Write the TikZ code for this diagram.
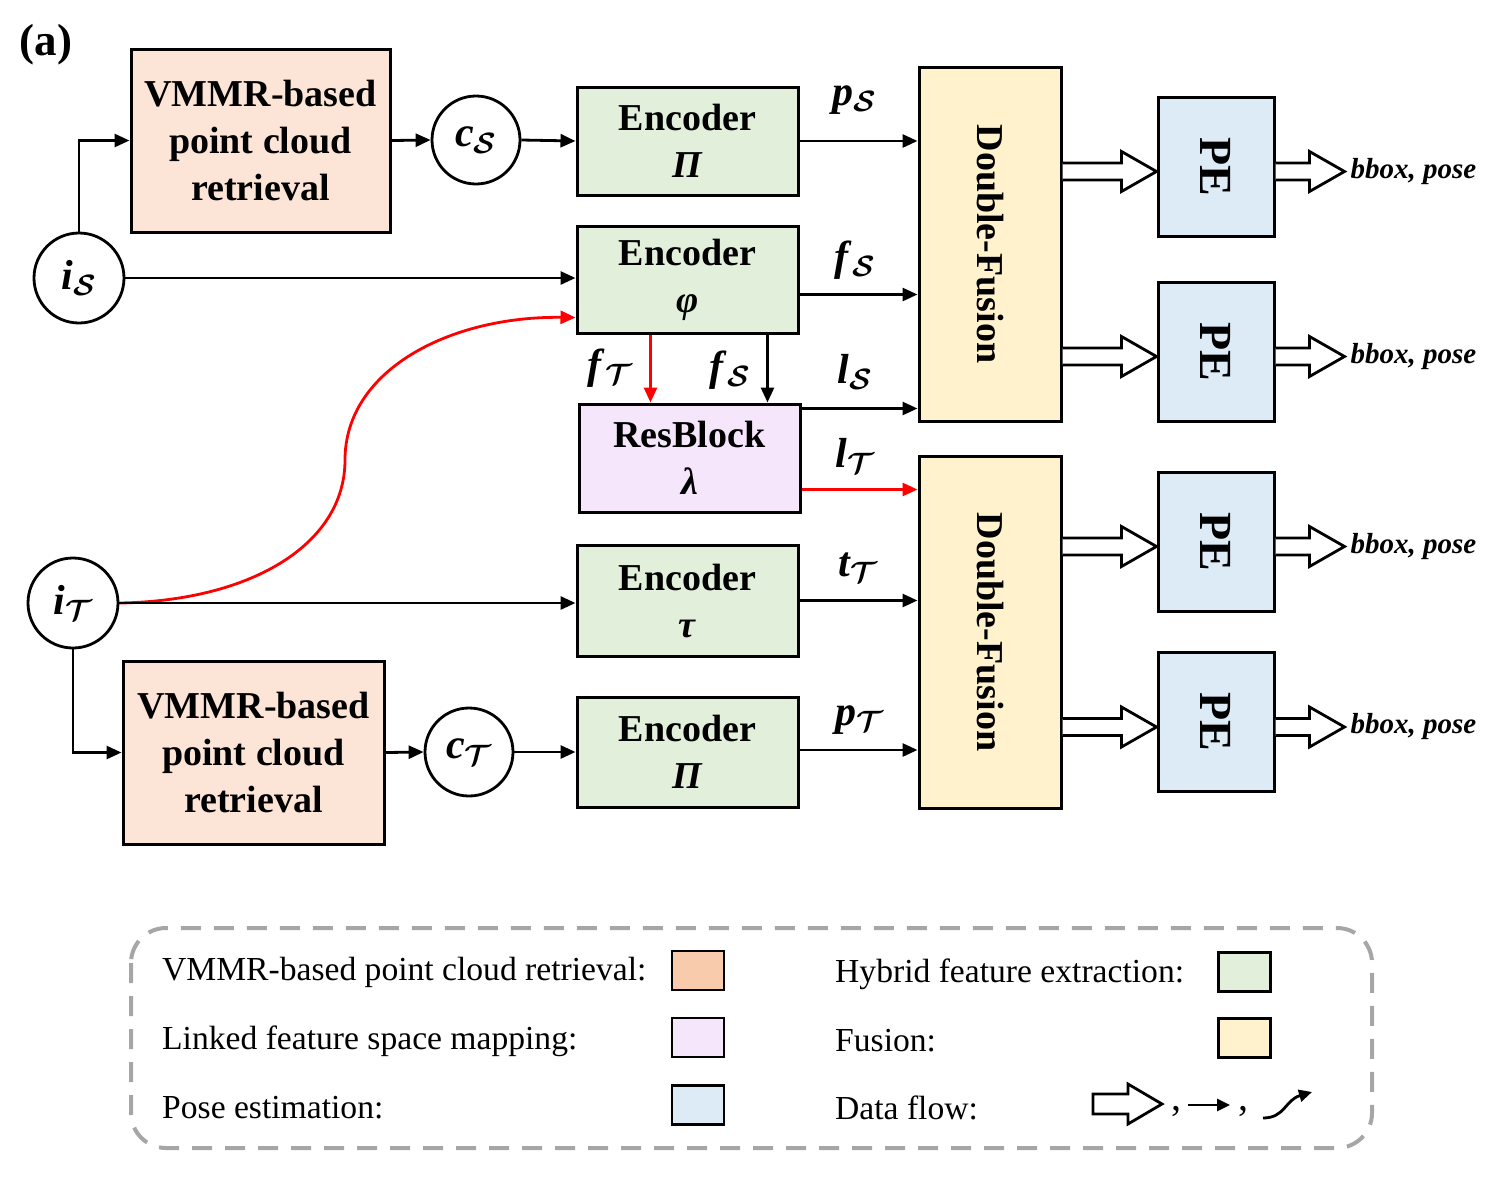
\RequirePackage{fix-cm}
\documentclass[tikz,border=0pt]{standalone}
\usepackage{amsmath}
\usepackage{fontspec}
\setmainfont{Liberation Serif}
\usetikzlibrary{arrows.meta,calc}
\definecolor{peach}{HTML}{FCE4D6}
\definecolor{peachdark}{HTML}{F8CBAD}
\definecolor{encgreen}{HTML}{E2EFDA}
\definecolor{lav}{HTML}{F5E6FC}
\definecolor{fusy}{HTML}{FFF2CC}
\definecolor{peblue}{HTML}{DDEBF7}
\definecolor{leggray}{HTML}{A6A6A6}
\newcommand\boxfont{\fontsize{38}{47}\selectfont\bfseries\boldmath}
\newcommand\labfont{\fontsize{42}{48}\selectfont\bfseries\boldmath}
\newcommand\legfont{\fontsize{33.6}{40}\selectfont}
\newcommand\mv[2]{\textit{#1}$_{\mathcal{#2}}$}
\newcommand\fatarr[2]{%
  \draw[line width=2.8pt, fill=white, line join=miter]
    ($(#1)+(0,-8.5)$) -- ($(#2)+(-35,-8.5)$) -- ($(#2)+(-35,-20)$) -- (#2)
    -- ($(#2)+(-35,20)$) -- ($(#2)+(-35,8.5)$) -- ($(#1)+(0,8.5)$);}
\begin{document}
\begin{tikzpicture}[x=1pt,y=-1pt,
  box/.style={draw, line width=3pt, align=center, inner sep=0pt, font=\boxfont},
  circ/.style={draw, circle, line width=2.8pt, minimum size=88pt, inner sep=0pt, font=\labfont, fill=white},
  conn/.style={line width=2.8pt, -{Triangle[length=15pt,width=13pt]}},
  lab/.style={font=\labfont, inner sep=0pt},
  rot/.style={rotate=-90, font=\boxfont, inner sep=0pt},
  outl/.style={font=\fontsize{29}{34}\selectfont\bfseries\itshape, anchor=west, inner sep=0pt},
  legtxt/.style={font=\legfont, anchor=west, inner sep=0pt},
  swatch/.style={draw, line width=2.6pt, minimum width=52pt, minimum height=39pt, inner sep=0pt},
]
\useasboundingbox (0,0) rectangle (1508,1176);

\node[font=\fontsize{45}{50}\selectfont\bfseries, inner sep=0pt] (lbl) at (46,45) {(a)};

% boxes
\node[box, fill=peach, minimum width=259pt, minimum height=183pt] (vmmr1) at (260.5,140.5)
  {VMMR-based\\point cloud\\retrieval};
\node[box, fill=peach, minimum width=261pt, minimum height=183pt] (vmmr2) at (253.5,752.5)
  {VMMR-based\\point cloud\\retrieval};
\node[circ] (cs) at (476,140) {\mv{c}{S}};
\node[circ, minimum size=90pt] (is) at (79,278) {\mv{i}{S}};
\node[circ, minimum size=90pt] (it) at (73,603) {\mv{i}{T}};
\node[circ] (ct) at (469,752) {\mv{c}{T}};

\node[box, fill=encgreen, minimum width=221pt, minimum height=108pt] (encP1) at (687.5,141)
  {Encoder\\\textit{Π}};
\node[box, fill=encgreen, minimum width=221pt, minimum height=107pt] (encphi) at (687.5,279.5)
  {Encoder\\\textit{φ}};
\node[box, fill=lav, minimum width=221pt, minimum height=108pt] (res) at (689.5,458)
  {ResBlock\\\textit{λ}};
\node[box, fill=encgreen, minimum width=221pt, minimum height=111pt] (enctau) at (687.5,600.5)
  {Encoder\\\textit{τ}};
\node[box, fill=encgreen, minimum width=221pt, minimum height=110pt] (encP2) at (687.5,752)
  {Encoder\\\textit{Π}};

\node[box, fill=fusy, minimum width=142pt, minimum height=354pt] (df1) at (990,244) {};
\node[rot] (df1t) at (df1.center) {Double-Fusion};
\node[box, fill=fusy, minimum width=142pt, minimum height=352pt] (df2) at (990,632) {};
\node[rot] (df2t) at (df2.center) {Double-Fusion};

\foreach \n/\y in {1/166.5,2/351.5,3/541.5,4/722}{
  \node[box, fill=peblue, minimum width=116pt, minimum height=139pt] (pe\n) at (1216,\y) {};
  \node[rot, font=\fontsize{46}{50}\selectfont\bfseries] (pe\n t) at (pe\n.center) {PE};
}

% connectors
\draw[conn] (is.north) |- (vmmr1.west);
\draw[conn] (vmmr1.east) -- (cs.west);
\draw[conn] (cs.east) -- (encP1.west);
\draw[conn] (is.east) -- (is.east -| encphi.west);
\coordinate (phiR) at ($(encphi.south west)+(0,-17)$);
\coordinate (midc) at (345,460);
\draw[line width=2.8pt, red, -{Triangle[length=15pt,width=13pt]}]
  (it.east) .. controls (250,601) and (345,545) .. (midc)
  .. controls (345,370) and (450,316) .. (phiR);
\draw[conn] (it.east) -- (it.east -| enctau.west);
\draw[conn] (it.south) |- (vmmr2.west);
\draw[conn] (vmmr2.east) -- (ct.west);
\draw[conn] (ct.east) -- (encP2.west);

\coordinate (fT) at ($(encphi.south west)+(75,0)$);
\draw[conn, red] (fT) -- (fT |- res.north);
\coordinate (fS) at ($(encphi.south east)+(-32,0)$);
\draw[conn] (fS) -- (fS |- res.north);

\draw[conn] (encP1.east) -- (encP1.east -| df1.west);
\coordinate (phiE) at ($(encphi.east)+(0,15)$);
\draw[conn] (phiE) -- (phiE -| df1.west);
\coordinate (resE1) at ($(res.north east)+(0,6)$);
\draw[conn] (resE1) -- (resE1 -| df1.west);
\coordinate (resE2) at ($(res.south east)+(0,-24)$);
\draw[conn, red] (resE2) -- (resE2 -| df2.west);
\draw[conn] (enctau.east) -- (enctau.east -| df2.west);
\coordinate (pE) at ($(encP2.east)+(0,-2)$);
\draw[conn] (pE) -- (pE -| df2.west);

% labels
\node[lab] (lps) at (855,100) {\mv{p}{S}};
\node[lab] (lfs) at (855,260) {\mv{f}{S}};
\node[lab] (lls) at (855,372) {\mv{l}{S}};
\node[lab] (llt) at (855,456) {\mv{l}{T}};
\node[lab] (ltt) at (858,568) {\mv{t}{T}};
\node[lab] (lpt) at (860,720) {\mv{p}{T}};
\node[lab] (lft) at (610,368) {\mv{f}{T}};
\node[lab] (lfs2) at (730,370) {\mv{f}{S}};

% fat arrows
\foreach \n/\d in {1/df1,2/df1,3/df2,4/df2}{
  \coordinate (a\n) at ($(pe\n.west)+(0,5)$);
  \coordinate (s\n) at (\d.east |- a\n);
  \fatarr{s\n}{a\n}
  \coordinate (o\n) at (pe\n.east |- a\n);
  \coordinate (b\n) at ($(o\n)+(69,0)$);
  \fatarr{o\n}{b\n}
  \node[outl] (bb\n) at ($(b\n)+(6,0)$) {bbox, pose};
}

% legend
\draw[leggray, line width=4pt, dash pattern=on 20pt off 13pt, rounded corners=35pt]
  (131,928) rectangle (1372,1148);
\node[legtxt] (t1) at (162,972) {VMMR-based point cloud retrieval:};
\node[swatch, fill=peachdark] (sw1) at (698,970.5) {};
\node[legtxt] (t2) at (835,974) {Hybrid feature extraction:};
\node[swatch, fill=encgreen] (sw2) at (1244.5,972) {};
\node[legtxt] (t3) at (162,1041) {Linked feature space mapping:};
\node[swatch, fill=lav] (sw3) at (698,1037.5) {};
\node[legtxt] (t4) at (835,1041) {Fusion:};
\node[swatch, fill=fusy] (sw4) at (1244.5,1038) {};
\node[legtxt] (t5) at (162,1108) {Pose estimation:};
\node[swatch, fill=peblue] (sw5) at (698,1105) {};
\node[legtxt] (t6) at (835,1108) {Data flow:};
\draw[line width=2.8pt, fill=white, line join=miter]
  (1093,1094) -- (1128,1094) -- (1128,1084) -- (1162,1104) -- (1128,1124) -- (1128,1114) -- (1093,1114) -- cycle;
\node[font=\fontsize{40}{44}\selectfont, inner sep=0pt] (cm1) at (1176,1112) {,};
\draw[line width=2.8pt, -{Triangle[length=13pt,width=12pt]}] (1188,1105) -- (1230,1105);
\node[font=\fontsize{40}{44}\selectfont, inner sep=0pt] (cm2) at (1243,1112) {,};
\draw[line width=2.8pt, -{Triangle[length=13pt,width=12pt]}]
  (1263,1118) .. controls (1285,1118) and (1285,1100) .. (1312,1092);
\end{tikzpicture}
\end{document}
